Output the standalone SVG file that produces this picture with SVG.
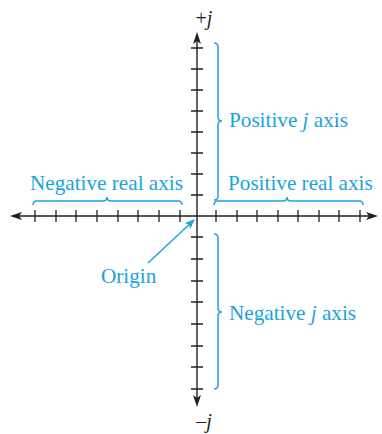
<svg xmlns="http://www.w3.org/2000/svg" width="382" height="434" viewBox="0 0 382 434">
<style>
.ax{stroke:#231f20;stroke-width:1.4;fill:none}
.tk{stroke:#231f20;stroke-width:1.3}
.ah{fill:#231f20}
.br{stroke:#1aa3df;stroke-width:1.5;fill:none}
.lb{font-family:"Liberation Serif","Times New Roman",serif;font-size:21.2px;fill:#1aa3df}
.bl{font-family:"Liberation Serif","Times New Roman",serif;font-size:20px;fill:#231f20}
</style>
<defs>
<marker id="blueArrow" markerWidth="10" markerHeight="8" refX="9" refY="4" orient="auto" markerUnits="userSpaceOnUse">
<path d="M0,0 L10,4 L0,8 L2.5,4 Z" fill="#1aa3df"/>
</marker>
</defs>
<g id="axes">
<line class="ax" x1="14" y1="216" x2="374" y2="216"/>
<line class="ax" x1="197" y1="36" x2="197" y2="403"/>
<path class="ah" d="M10,216 L22,212 L19,216 L22,220 Z"/>
<path class="ah" d="M378,216 L366,212 L369,216 L366,220 Z"/>
<path class="ah" d="M197,32 L201,44 L197,41 L193,44 Z"/>
<path class="ah" d="M197,407 L201,395 L197,398 L193,395 Z"/>
</g>
<g id="ticks">
<path class="tk" d="M35,210V222M56,210V222M76,210V222M97,210V222M118,210V222M138,210V222M159,210V222M180,210V222M216,210V222M237,210V222M257,210V222M278,210V222M298,210V222M319,210V222M339,210V222M360,210V222"/>
<path class="tk" d="M191,48H203M191,69H203M191,90H203M191,111H203M191,132H203M191,153H203M191,174H203M191,195H203M191,237H203M191,259H203M191,281H203M191,302H203M191,324H203M191,346H203M191,367H203M191,389H203"/>
</g>
<g id="labels-axes">
<text class="bl" x="204" y="25" text-anchor="middle">+<tspan font-style="italic">j</tspan></text>
<text class="bl" x="204" y="428" text-anchor="middle">–<tspan font-style="italic">j</tspan></text>
</g>
<g id="negative-real">
<path class="br" d="M33,205 Q33,201 37,201 L103,201 Q107,201 107,197 Q107,201 111,201 L178,201 Q182,201 182,205"/>
<text class="lb" x="30" y="190">Negative real axis</text>
</g>
<g id="positive-real">
<path class="br" d="M214,205 Q214,201 218,201 L283,201 Q287,201 287,197 Q287,201 291,201 L359,201 Q363,201 363,205"/>
<text class="lb" x="228" y="190">Positive real axis</text>
</g>
<g id="positive-j">
<path class="br" d="M214,43 Q218,43 218,47 L218,117 Q218,121 222,121 Q218,121 218,125 L218,196 Q218,200 214,200"/>
<text class="lb" x="229" y="127">Positive <tspan font-style="italic">j</tspan> axis</text>
</g>
<g id="negative-j">
<path class="br" d="M214,234 Q218,234 218,238 L218,308 Q218,312 222,312 Q218,312 218,316 L218,385 Q218,389 214,389"/>
<text class="lb" x="229" y="320">Negative <tspan font-style="italic">j</tspan> axis</text>
</g>
<g id="origin">
<text class="lb" x="101" y="283">Origin</text>
</g>
<g id="connectors">
<line x1="148" y1="263" x2="194" y2="220" stroke="#1aa3df" stroke-width="1.5" marker-end="url(#blueArrow)"/>
</g>
</svg>
